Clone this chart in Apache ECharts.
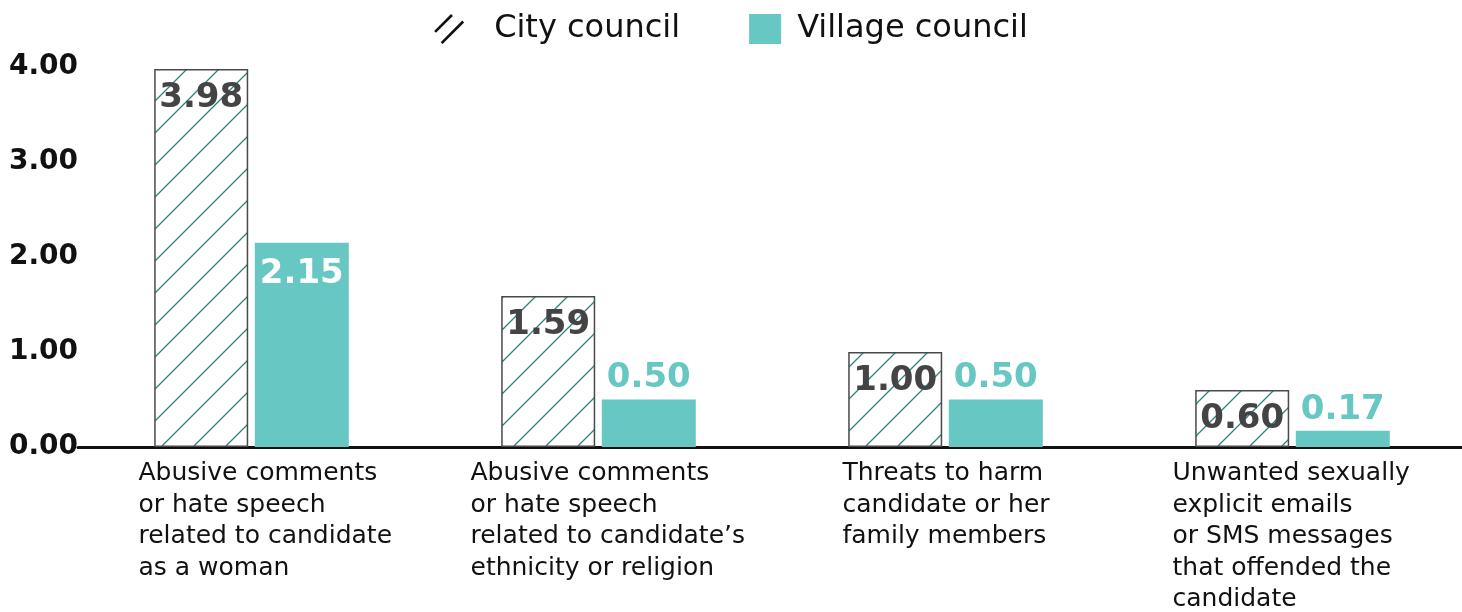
<!DOCTYPE html>
<html>
<head>
<meta charset="utf-8">
<script src="https://cdn.jsdelivr.net/npm/echarts@6/dist/echarts.min.js"></script>
<style>
  html, body { margin: 0; padding: 0; background: #fff; }
  #chart { width: 1462px; height: 612px; }
</style>
</head>
<body>
<div id="chart"></div>
<script>
// Average number of incidents per candidate, by type of online harassment
const categories = [
  'Abusive comments\nor hate speech\nrelated to candidate\nas a woman',
  'Abusive comments\nor hate speech\nrelated to candidate\u2019s\nethnicity or religion',
  'Threats to harm\ncandidate or her\nfamily members',
  'Unwanted sexually\nexplicit emails\nor SMS messages\nthat offended the\ncandidate'
];
const cityValues = [3.98, 1.59, 1.00, 0.60];
const villageValues = [2.15, 0.50, 0.50, 0.17];
const yTicks = [0, 1, 2, 3, 4];

const FONT = '"DejaVu Sans", "Noto Sans", sans-serif';
const TEAL = '#67c7c3';
const HATCH = '#2f7f7c';
const DARK = '#444444';

// Diagonal hatch tile for the city council bars
function hatchTile() {
  const s = 32;
  const c = document.createElement('canvas');
  c.width = s; c.height = s;
  const g = c.getContext('2d');
  g.fillStyle = '#ffffff';
  g.fillRect(0, 0, s, s);
  g.strokeStyle = HATCH;
  g.lineWidth = 1.3;
  g.beginPath();
  g.moveTo(-2, s + 2); g.lineTo(s + 2, -2);
  g.moveTo(-2, 2); g.lineTo(2, -2);
  g.moveTo(s - 2, s + 2); g.lineTo(s + 2, s - 2);
  g.stroke();
  return c;
}

// Category label style; each label is left-aligned and shifted left of its tick
const catLabelStyle = {
  align: 'left',
  verticalAlign: 'top',
  fontFamily: FONT,
  fontSize: 25,
  lineHeight: 31.5,
  color: '#111111'
};
const labelIndent = [-113, -128, -103, -120];

const chart = echarts.init(document.getElementById('chart'), null, { renderer: 'canvas' });

chart.setOption({
  animation: false,
  backgroundColor: '#ffffff',
  textStyle: { fontFamily: FONT },
  legend: {
    top: 8,
    left: 'center',
    itemWidth: 32,
    itemHeight: 30,
    itemGap: 69,
    textStyle: { fontFamily: FONT, fontSize: 32, color: '#111111' },
    data: [
      {
        name: 'City council',
        icon: 'path://M0,18 L18,0 L20,2 L2,20 Z M7,30 L30,7 L32,9 L9,32 Z',
        itemStyle: { color: '#111111', borderWidth: 0 },
        textStyle: { padding: [0, 0, 0, 24] }
      },
      {
        name: 'Village council',
        icon: 'rect',
        itemStyle: { color: TEAL, borderWidth: 0 },
        textStyle: { padding: [0, 0, 0, 11] }
      }
    ]
  },
  grid: {
    left: 78, width: 1388, top: 67, height: 380,
    containLabel: false,
    outerBoundsMode: 'none'
  },
  xAxis: {
    type: 'category',
    data: categories.map((c, i) => ({
      value: c,
      textStyle: Object.assign({}, catLabelStyle, { padding: [0, 0, 0, labelIndent[i]] })
    })),
    axisLine: { show: true, lineStyle: { color: '#111111', width: 3 } },
    axisTick: { show: false },
    axisLabel: Object.assign({ interval: 0, margin: 11 }, catLabelStyle)
  },
  yAxis: {
    type: 'value',
    min: yTicks[0],
    max: yTicks[yTicks.length - 1],
    interval: 1,
    splitLine: { show: false },
    axisLine: { show: false },
    axisTick: { show: false },
    axisLabel: {
      margin: 0,
      fontFamily: FONT,
      fontSize: 28,
      fontWeight: 'bold',
      color: '#111111',
      formatter: v => v.toFixed(2)
    }
  },
  series: [
    {
      name: 'City council',
      type: 'bar',
      barWidth: 94,
      barGap: '7%',
      data: cityValues,
      itemStyle: {
        color: { image: hatchTile(), repeat: 'repeat' },
        borderColor: '#4a4a4a',
        borderWidth: 1.5
      },
      label: {
        show: true,
        position: 'insideTop',
        distance: 12,
        fontFamily: FONT,
        fontSize: 34,
        fontWeight: 'bold',
        color: DARK,
        formatter: p => p.value.toFixed(2)
      }
    },
    {
      name: 'Village council',
      type: 'bar',
      barWidth: 94,
      data: villageValues.map(v => ({
        value: v,
        label: v > 1
          ? { position: 'insideTop', distance: 14, color: '#ffffff' }
          : { position: 'top', distance: 4, color: TEAL }
      })),
      itemStyle: { color: TEAL },
      label: {
        show: true,
        fontFamily: FONT,
        fontSize: 34,
        fontWeight: 'bold',
        formatter: p => p.value.toFixed(2)
      }
    }
  ]
});
</script>
</body>
</html>
